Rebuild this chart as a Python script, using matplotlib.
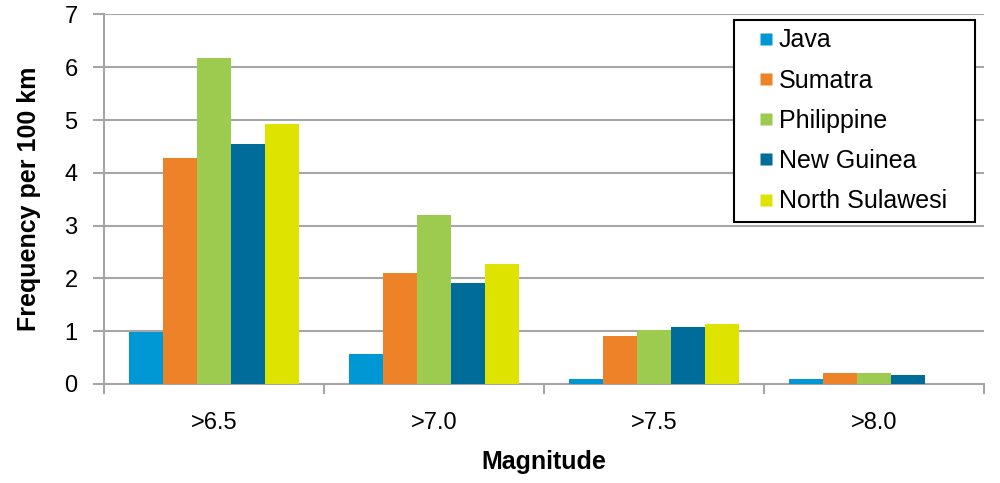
import matplotlib
matplotlib.use("Agg")
import matplotlib.pyplot as plt
from matplotlib.lines import Line2D
import numpy as np

plt.rcParams['font.family'] = ['Liberation Sans', 'DejaVu Sans']

categories = [">6.5", ">7.0", ">7.5", ">8.0"]
series_names = ["Java", "Sumatra", "Philippine", "New Guinea", "North Sulawesi"]
java = [0.98, 0.56, 0.09, 0.09]
sumatra = [4.28, 2.11, 0.90, 0.21]
philippine = [6.17, 3.21, 1.03, 0.21]
new_guinea = [4.55, 1.92, 1.08, 0.17]
north_sulawesi = [4.93, 2.27, 1.14, 0.0]
colors = ["#0097D5", "#EE8229", "#9DCB50", "#006C9A", "#DEE400"]

series = [java, sumatra, philippine, new_guinea, north_sulawesi]

fig = plt.figure(figsize=(10, 4.83), dpi=100)
ax = fig.add_axes([0.104, 0.205, 0.88, 0.765])

x = np.arange(len(categories))
bw = 0.1545
for i, (vals, c) in enumerate(zip(series, colors)):
    ax.bar(x + (i - 2) * bw, vals, width=bw, color=c, edgecolor='none', zorder=3)

ax.set_xlim(-0.5, len(categories) - 0.5)
ax.set_ylim(0, 7)
ax.set_yticks(range(0, 8))
ax.set_xticks(x)
ax.set_xticklabels(categories)
ax.set_xticks(np.arange(-0.5, len(categories), 1.0), minor=True)

grid_c = "#A6A6A6"
ax.yaxis.grid(True, color=grid_c, linewidth=1.5, zorder=0)
for s in ['top', 'right']:
    ax.spines[s].set_visible(False)
for s in ['left', 'bottom']:
    ax.spines[s].set_color(grid_c)
    ax.spines[s].set_linewidth(1.5)

ax.tick_params(axis='y', length=8, width=1.5, color=grid_c, labelsize=17, pad=11)
ax.tick_params(axis='x', which='major', length=0, labelsize=17, pad=20)
ax.tick_params(axis='x', which='minor', length=7, width=1.5, color=grid_c)

ax.set_ylabel("Frequency per 100 km", fontsize=18, fontweight='bold', labelpad=17)
ax.set_xlabel("Magnitude", fontsize=18, fontweight='bold', labelpad=12)

handles = [Line2D([], [], linestyle='none', marker='s', markersize=8.6,
                  markerfacecolor=c, markeredgecolor='none') for c in colors]
leg = ax.legend(handles, series_names, loc='upper left',
                bbox_to_anchor=(0.7159, 0.0, 0.2739, 0.986), mode='expand',
                fontsize=18, frameon=True, fancybox=False, shadow=False,
                borderpad=0.35, labelspacing=0.65, handlelength=1.86, handletextpad=-0.41,
                numpoints=1, borderaxespad=0)
leg.get_frame().set_edgecolor('black')
leg.get_frame().set_linewidth(1.5)
leg.get_frame().set_alpha(1)

fig.savefig("out.png", dpi=100, facecolor='white')
